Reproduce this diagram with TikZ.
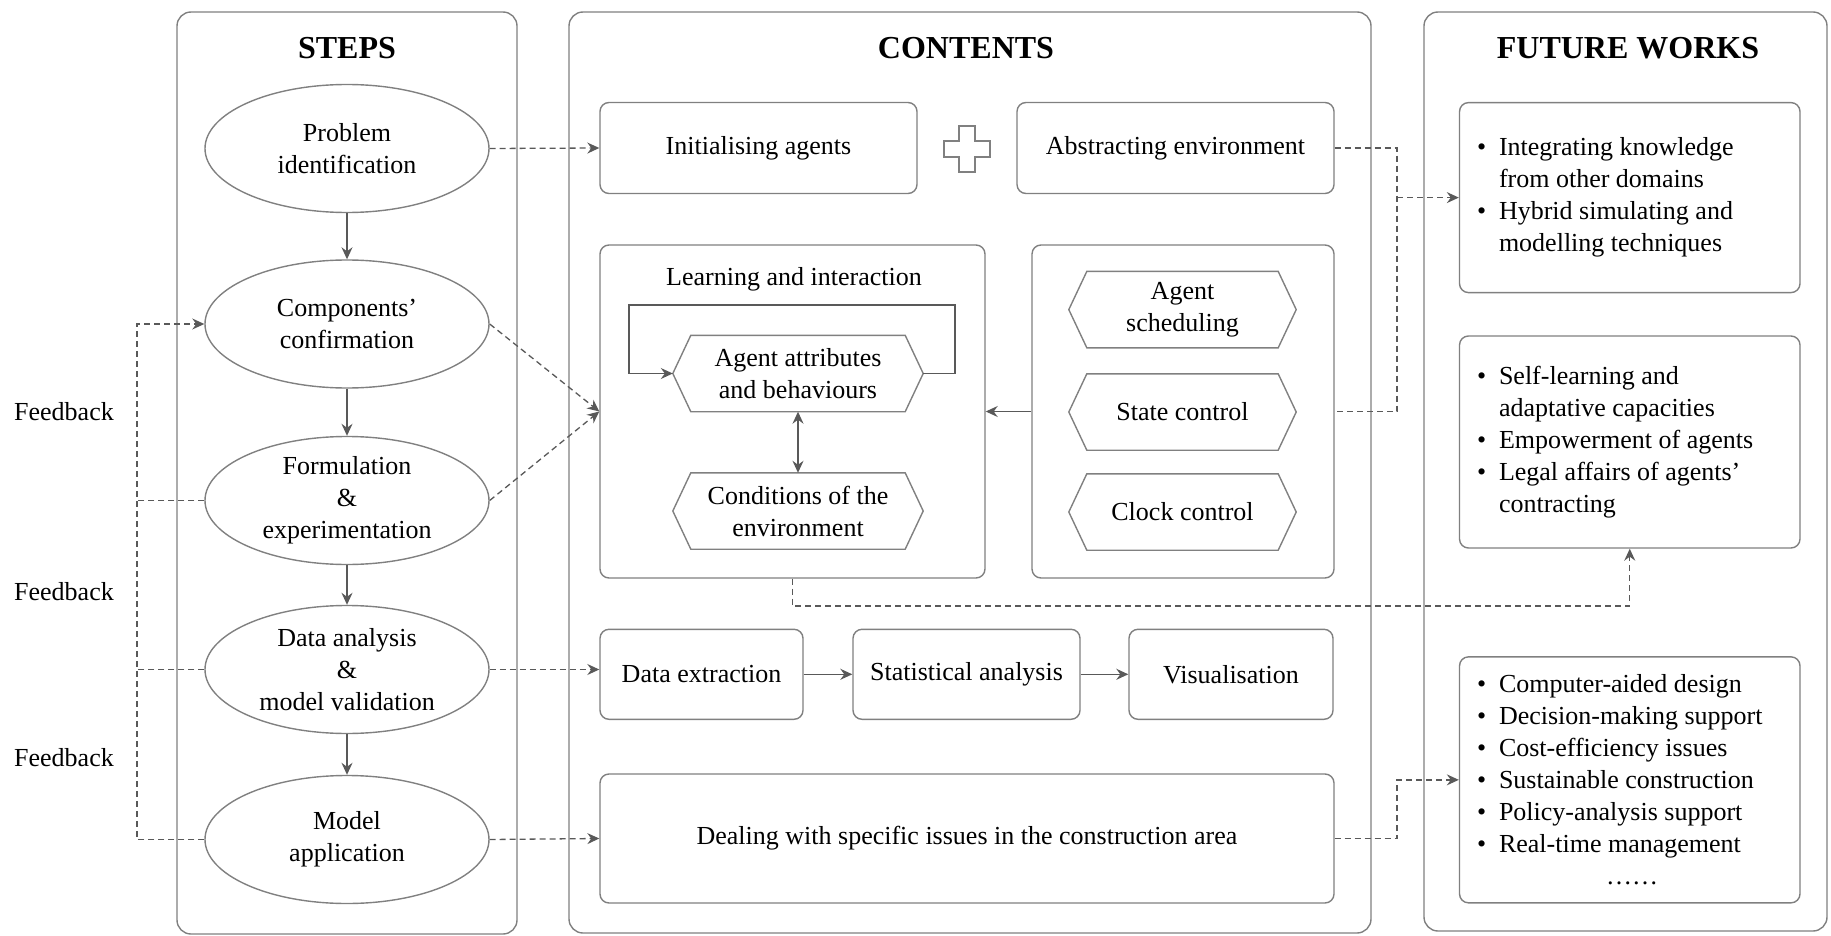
\documentclass[tikz,border=0pt]{standalone}
\usepackage{fontspec}
\setmainfont{Liberation Serif}
\usetikzlibrary{arrows.meta,shapes.geometric,calc}
\newcommand\bodyfont{\fontsize{26}{32}\selectfont}
\newcommand\titlefont{\fontsize{32}{36}\selectfont\bfseries}
\newcommand\fwb{\makebox[22pt][l]{\textbullet}}
\newcommand\fwind{\hspace*{22pt}}
\tikzset{
  border/.style={draw=black!50, line width=1.4pt},
  panel/.style={border, rounded corners=14pt},
  box/.style={border, rounded corners=9pt, inner sep=0pt, align=center},
  oval/.style={ellipse, border, minimum width=284pt, minimum height=128pt, inner sep=0pt, align=center},
  hexin/.style={minimum height=76pt, inner sep=0pt, align=center},
  conn/.style={draw=black!65, line width=1.3pt},
  tip/.style={-{Stealth[length=12pt,width=11pt,inset=4pt]}},
  dtip/.style={{Stealth[length=12pt,width=11pt,inset=4pt]}-{Stealth[length=12pt,width=11pt,inset=4pt]}},
  dashline/.style={conn, dash pattern=on 6pt off 4pt},
  title/.style={font=\titlefont},
  fwtext/.style={anchor=west, align=left, inner sep=0pt}
}
\newcommand\hexnode[5]{%
  \node[hexin, minimum width=#4] (#1) at (#2,#3) {#5};
  \draw[border] (#1.west) -- ([xshift=18pt]#1.north west) -- ([xshift=-18pt]#1.north east)
    -- (#1.east) -- ([xshift=-18pt]#1.south east) -- ([xshift=18pt]#1.south west) -- cycle;}
\begin{document}
\begin{tikzpicture}[x=1pt, y=-1pt, font=\bodyfont]
\useasboundingbox (0,0) rectangle (1831,936);
% panels
\draw[panel] (177,12) rectangle (517,934);
\draw[panel] (569,12) rectangle (1371,933);
\draw[panel] (1424,12) rectangle (1827,931);
\node[title] (tsteps) at (347,48) {STEPS};
\node[title] (tcont) at (966,48) {CONTENTS};
\node[title] (tfut) at (1628,48) {FUTURE WORKS};
% steps
\node[oval] (p1) at (347,148.5) {Problem\\identification};
\node[oval] (p2) at (347,324) {Components’\\confirmation};
\node[oval] (p3) at (347,500.5) {Formulation\\\&\\experimentation};
\node[oval] (p4) at (347,669.5) {Data analysis\\\&\\model validation};
\node[oval] (p5) at (347,839.5) {Model\\application};
\draw[conn,tip] (p1.south) -- (p2.north);
\draw[conn,tip] (p2.south) -- (p3.north);
\draw[conn,tip] (p3.south) -- (p4.north);
\draw[conn,tip] (p4.south) -- (p5.north);
% feedback
\node (fb1) at (64,412) {Feedback};
\node (fb2) at (64,592) {Feedback};
\node (fb3) at (64,758) {Feedback};
\coordinate (fbx) at (137,324);
\draw[dashline,tip] (p5.west) -| (fbx) -- (p2.west);
\draw[dashline] (p3.west) -- (p3.west -| fbx);
\draw[dashline] (p4.west) -- (p4.west -| fbx);
% contents
\node[box, minimum width=317pt, minimum height=91pt] (init) at (758.5,148) {Initialising agents};
\node[box, minimum width=317pt, minimum height=91pt] (abs) at (1175.5,148) {Abstracting environment};
\draw[border] (959,126) -- (975,126) -- (975,141) -- (990,141) -- (990,157) -- (975,157) -- (975,172)
  -- (959,172) -- (959,157) -- (944,157) -- (944,141) -- (959,141) -- cycle;
\node[box, minimum width=385pt, minimum height=333pt] (learn) at (792.5,411.5) {};
\node (ltitle) at (794,279) {Learning and interaction};
\node[box, minimum width=302pt, minimum height=333pt] (ctrl) at (1183,411.5) {};
\hexnode{agent}{798}{373.5}{250pt}{Agent attributes\\and behaviours}
\hexnode{cond}{798}{511}{250pt}{Conditions of the\\environment}
\hexnode{sched}{1182.5}{309.6}{227pt}{Agent\\scheduling}
\hexnode{state}{1182.5}{412}{227pt}{State control}
\hexnode{clock}{1182.5}{512}{227pt}{Clock control}
\draw[conn,dtip] (agent.south) -- (cond.north);
\coordinate (lr) at (955,305);
\coordinate (ll) at (629,305);
\draw[conn,tip] (agent.east) -- (agent.east -| lr) -- (lr) -- (ll) -- (ll |- agent.west) -- (agent.west);
\draw[conn,tip] (ctrl.west) -- (learn.east);
\node[box, minimum width=203pt, minimum height=90pt] (dext) at (701.5,674.3) {Data extraction};
\node[box, minimum width=227pt, minimum height=90pt] (stat) at (966.5,674.3) {Statistical analysis};
\node[box, minimum width=204pt, minimum height=90pt] (vis) at (1231,674.3) {Visualisation};
\draw[conn,tip] (dext.east) -- (stat.west);
\draw[conn,tip] (stat.east) -- (vis.west);
\node[box, minimum width=734pt, minimum height=129pt] (deal) at (967,838.5) {Dealing with specific issues in the construction area};
% steps to contents
\draw[dashline,tip] (p1.east) -- (init.west);
\draw[dashline,tip] (p2.east) -- (learn.west);
\draw[dashline,tip] (p3.east) -- (learn.west);
\draw[dashline,tip] (p4.east) -- (p4.east -| dext.west);
\draw[dashline,tip] (p5.east) -- (deal.west);
% future works
\node[box, minimum width=340.5pt, minimum height=190pt] (fw1) at (1629.75,197.6) {};
\node[box, minimum width=340.5pt, minimum height=212pt] (fw2) at (1629.75,442) {};
\node[box, minimum width=340.5pt, minimum height=246pt] (fw3) at (1629.75,779.85) {};
\node[fwtext] (fw1t) at ([xshift=18pt]fw1.west) {\fwb Integrating knowledge\\\fwind from other domains\\\fwb Hybrid simulating and\\\fwind modelling techniques};
\node[fwtext] (fw2t) at ([xshift=18pt]fw2.west) {\fwb Self-learning and\\\fwind adaptative capacities\\\fwb Empowerment of agents\\\fwb Legal affairs of agents’\\\fwind contracting};
\node[fwtext] (fw3t) at ([xshift=18pt]fw3.west) {\fwb Computer-aided design\\\fwb Decision-making support\\\fwb Cost-efficiency issues\\\fwb Sustainable construction\\\fwb Policy-analysis support\\\fwb Real-time management\\\hspace*{129pt}……};
% contents to future works
\coordinate (jx) at (1397,0);
\coordinate (lbend) at (1000,606);
\draw[dashline] (abs.east) -- (abs.east -| jx) -- (ctrl.east -| jx) -- (ctrl.east);
\draw[dashline,tip] (fw1.west -| jx) -- (fw1.west);
\draw[dashline,tip] (learn.south) |- (lbend) -| (fw2.south);
\draw[dashline,tip] (deal.east) -| (fw3.west -| jx) -- (fw3.west);
\end{tikzpicture}
\end{document}
